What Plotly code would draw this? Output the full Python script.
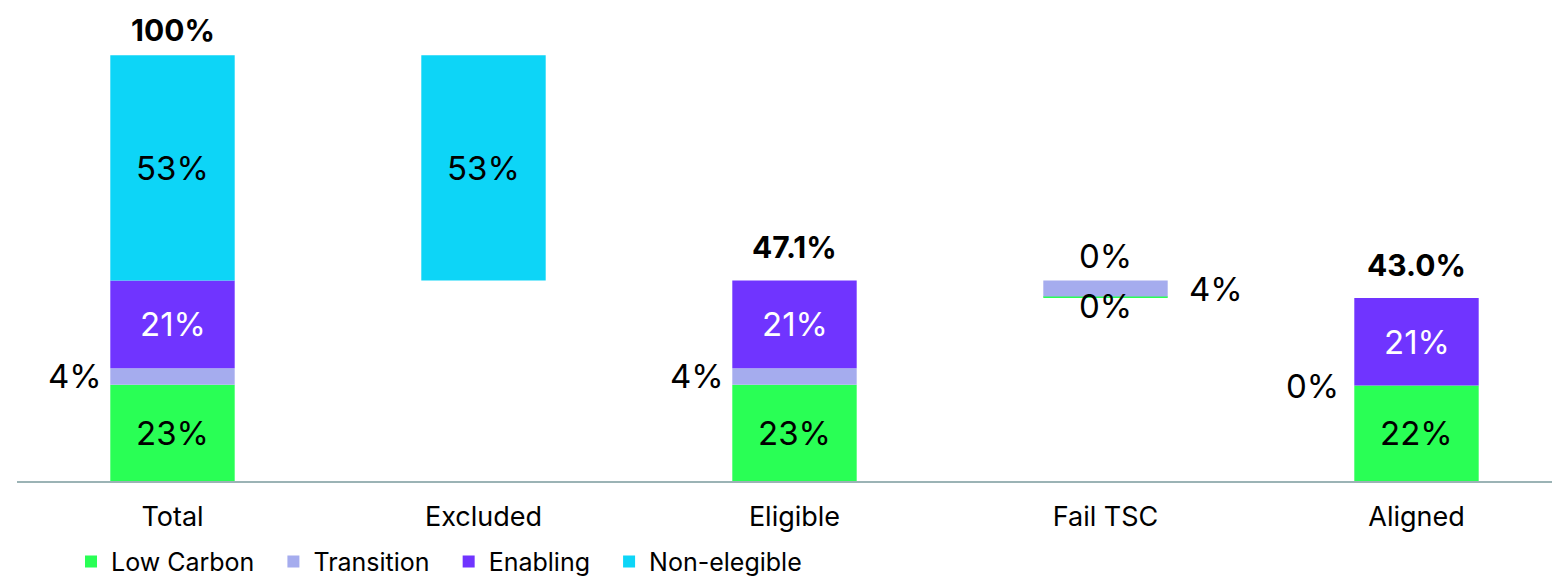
import plotly.graph_objects as go

categories = ["Total", "Excluded", "Eligible", "Fail TSC", "Aligned"]
low_carbon = [22.6, 0.0, 22.6, 0.3, 22.4]
transition = [3.9, 0.0, 3.9, 3.8, 0.0]
enabling = [20.6, 0.0, 20.6, 0.0, 20.6]
non_eligible = [52.9, 52.9, 0.0, 0.0, 0.0]
category_base = [0.0, 47.1, 0.0, 43.0, 0.0]
totals = ["100%", None, "47.1%", None, "43.0%"]

series = [
    ("Low Carbon", low_carbon, "#29FF55", "#000000"),
    ("Transition", transition, "#A5ACEE", "#000000"),
    ("Enabling", enabling, "#7034FF", "#FFFFFF"),
    ("Non-elegible", non_eligible, "#0DD5F7", "#000000"),
]
present = {
    "Low Carbon": [True, False, True, True, True],
    "Transition": [True, False, True, True, True],
    "Enabling": [True, False, True, True, True],
    "Non-elegible": [True, True, False, False, False],
}

FONT = "Inter"
LBL = 33
BW = 0.4
fig = go.Figure()
annotations = []
running = list(category_base)
tops = [0] * len(categories)
pad = "\u00a0" * 2
for k, (name, vals, color, tcol) in enumerate(series):
    bases = list(running)
    ys = [v if present[name][i] else None for i, v in enumerate(vals)]
    fig.add_trace(go.Bar(
        name=name + (pad if k < len(series) - 1 else ""),
        x=list(range(len(categories))), y=ys, base=bases,
        marker=dict(color=color, line=dict(width=0)), width=BW,
        hoverinfo="skip",
    ))
    for i, v in enumerate(vals):
        if not present[name][i]:
            continue
        lab = f"{round(v):d}%"
        mid = bases[i] + v / 2
        f = dict(color="#000", size=LBL, family=FONT)
        if v >= 10:
            annotations.append(dict(x=i, y=mid, text=lab, showarrow=False,
                                    font=dict(color=tcol, size=LBL, family=FONT)))
        elif name == "Transition":
            if i == 3:
                annotations.append(dict(x=i + BW / 2, y=mid, text=lab, showarrow=False,
                                        xanchor="left", xshift=19, font=f))
            else:
                annotations.append(dict(x=i - BW / 2, y=mid, text=lab, showarrow=False,
                                        xanchor="right", xshift=-6 if i != 4 else -13,
                                        font=f))
        elif name == "Enabling":
            annotations.append(dict(x=i, y=bases[i] + v, text=lab, showarrow=False,
                                    yshift=24, font=f))
        elif name == "Low Carbon":
            annotations.append(dict(x=i, y=bases[i], text=lab, showarrow=False,
                                    yshift=-8, font=f))
    for i in range(len(categories)):
        running[i] = bases[i] + vals[i]
        tops[i] = max(tops[i], running[i])

for i, t in enumerate(totals):
    if t:
        annotations.append(dict(x=i, y=tops[i], text=f"<b>{t}</b>", showarrow=False,
                                yshift=25 if tops[i] >= 100 else 33,
                                font=dict(color="#000", size=30, family=FONT)))

fig.update_layout(
    width=1552, height=571,
    margin=dict(l=9, r=0, t=2, b=98, autoexpand=False),
    paper_bgcolor="white", plot_bgcolor="white",
    barmode="overlay",
    showlegend=True,
    legend=dict(orientation="h", x=0.035, xref="paper", y=0.03, yref="container",
                xanchor="left", yanchor="middle",
                font=dict(size=25, family=FONT, color="#000"),
                traceorder="normal"),
    annotations=annotations,
    font=dict(family=FONT),
)
fig.update_xaxes(
    tickmode="array", tickvals=list(range(len(categories))), ticktext=categories,
    range=[-0.5, -0.5 + 1543 / 311], showgrid=False, zeroline=False,
    showline=True, linecolor="#9BB3B5", linewidth=1.5, ticks="",
    ticklabelstandoff=11,
    tickfont=dict(size=27, family=FONT, color="#000"),
)
fig.update_yaxes(range=[0, 110.6], visible=False, showgrid=False, zeroline=False)

fig.write_html("out.html")
